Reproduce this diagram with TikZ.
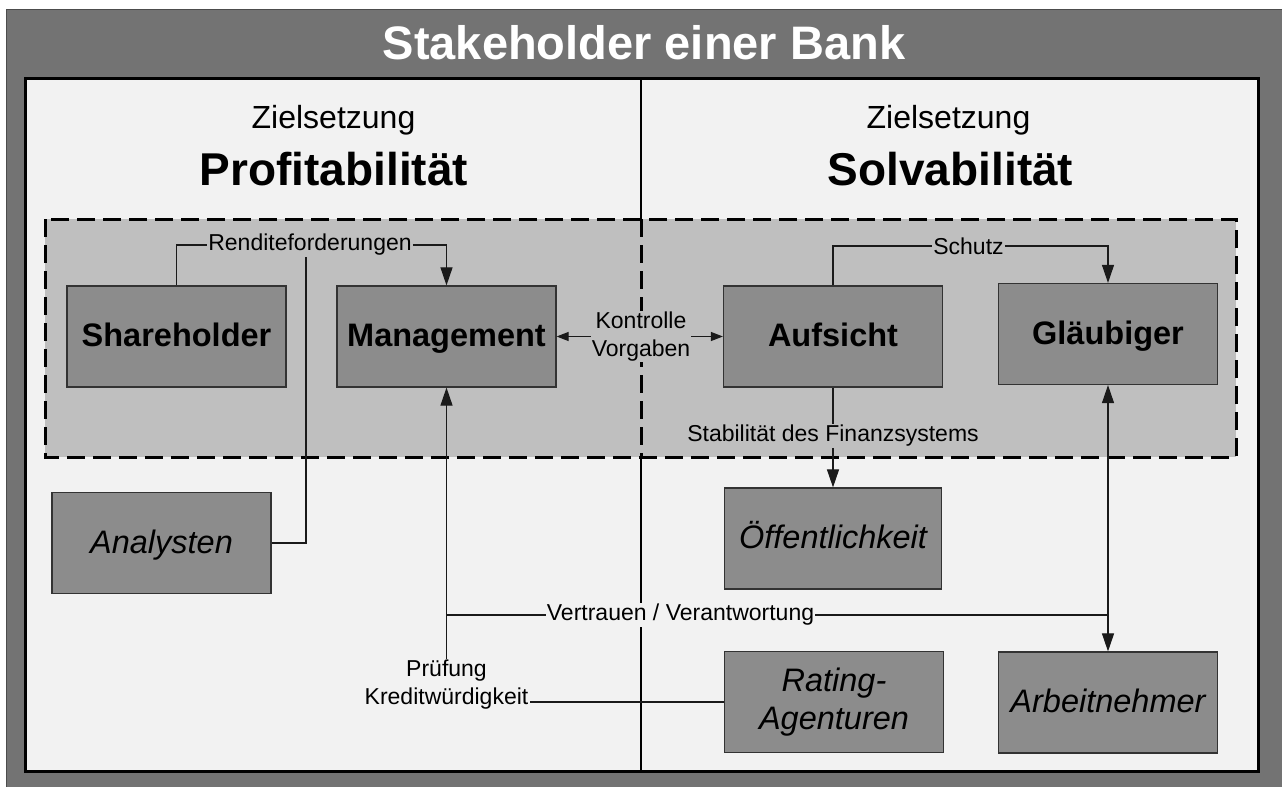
\documentclass[tikz,border=0pt]{standalone}
\usepackage{fontspec}
\setmainfont{Liberation Sans}
\usetikzlibrary{arrows.meta}
\definecolor{outerbg}{HTML}{737373}
\definecolor{innerbg}{HTML}{F2F2F2}
\definecolor{grpfill}{HTML}{BFBFBF}
\definecolor{boxfill}{HTML}{8C8C8C}
\definecolor{boxline}{HTML}{333333}
\definecolor{connc}{HTML}{1A1A1A}
\begin{document}
\begin{tikzpicture}[x=1pt,y=-1pt,
  box/.style={draw=boxline, fill=boxfill, line width=1.2pt, minimum width=219pt, minimum height=101pt, inner sep=0pt, align=center},
  onel/.style={text height=24pt, text depth=4pt},
  bl/.style={font=\fontsize{32.5}{38}\selectfont\bfseries},
  il/.style={font=\fontsize{32.5}{38}\selectfont\itshape},
  lbl/.style={font=\fontsize{23}{28}\selectfont, inner sep=1pt, align=center},
  conn/.style={draw=connc, line width=1.1pt},
  bigtip/.style={-{Triangle[length=18pt,width=12pt]}},
  bigboth/.style={{Triangle[length=18pt,width=12pt]}-{Triangle[length=18pt,width=12pt]}},
  smalltip/.style={-{Triangle[length=12pt,width=9pt]}},
  grpdash/.style={line width=3pt, dash pattern=on 18pt off 8pt},
  headtxt/.style={anchor=base, font=\fontsize{32}{38}\selectfont},
  goaltxt/.style={anchor=base, font=\fontsize{46}{54}\selectfont\bfseries}
]
\useasboundingbox (0,0) rectangle (1282,787);
% frame
\fill[outerbg] (6,9) rectangle (1282,787);
\draw[black!70, line width=1pt] (1282,9) -- (6,9) -- (6,787);
\draw[fill=innerbg, line width=3pt] (25,78) rectangle (1258,771);
\draw[line width=2.5pt] (641,78) -- (641,771);
\fill[grpfill] (45,219) rectangle (1236,457);
\draw[grpdash] (45,219) rectangle (1236,457);
\draw[grpdash] (641,219) -- (641,457);

% headings
\node[anchor=base, text=white, font=\fontsize{47}{56}\selectfont\bfseries] (title) at (644,59) {Stakeholder einer Bank};
\node[headtxt] (zl) at (333.5,128) {Zielsetzung};
\node[goaltxt] (pl) at (334,185) {Profitabilität};
\node[headtxt] (zr) at (948.5,128) {Zielsetzung};
\node[goaltxt] (sr) at (950.5,185) {Solvabilität};

% boxes
\node[box,bl,onel] (share) at (176.5,336.5) {Shareholder};
\node[box,bl,onel] (mgmt) at (446.5,336.5) {Management};
\node[box,bl,onel] (aufs) at (833,336.5) {Aufsicht};
\node[box,bl,onel] (glaeub) at (1108,334) {Gläubiger};
\node[box,il,onel] (anal) at (161.5,543) {Analysten};
\node[box,il,onel, minimum width=217pt] (oeff) at (833,538.5) {Öffentlichkeit};
\node[box,il] (rating) at (834,702) {Rating-\\Agenturen};
\node[box,il,onel] (arbeit) at (1108,702.5) {Arbeitnehmer};

% labels
\node[lbl, fill=grpfill] (rend) at (310,245) {Renditeforderungen};
\node[lbl, fill=grpfill] (kv) at (641,336.5) {Kontrolle\\Vorgaben};
\node[lbl, fill=grpfill] (schutz) at (968.5,246) {Schutz};
\node[lbl, fill=grpfill] (stab) at (833,436) {Stabilität des Finanzsystems};
\node[lbl, fill=innerbg] (vv) at (680.5,615) {Vertrauen / Verantwortung};
\node[lbl, fill=innerbg] (pk) at (446.5,685) {Prüfung\\Kreditwürdigkeit};
\coordinate (J) at (446.5,615);

% connectors
\draw[conn] (share.north) |- (rend.west);
\draw[conn, bigtip] (rend.east) -| (mgmt.north);
\draw[conn] (anal.east) -| ([xshift=-4pt]rend.south);
\draw[conn, smalltip] (kv.west) -- (mgmt.east);
\draw[conn, smalltip] (kv.east) -- (aufs.west);
\draw[conn] (aufs.north) |- (schutz.west);
\draw[conn, bigtip] (schutz.east) -| (glaeub.north);
\draw[conn] (aufs.south) -- (stab.north);
\draw[conn, bigtip] (stab.south) -- (oeff.north);
\draw[conn, bigtip] (J) -- (mgmt.south);
\draw[conn] (J) -- (vv.west);
\draw[conn] (vv.east) -- (vv.east -| glaeub.south);
\draw[conn, bigboth] (glaeub.south) -- (arbeit.north);
\draw[conn] (J) -- (pk.north);
\draw[conn] (rating.west) -- (rating.west -| pk.east);
\end{tikzpicture}
\end{document}
